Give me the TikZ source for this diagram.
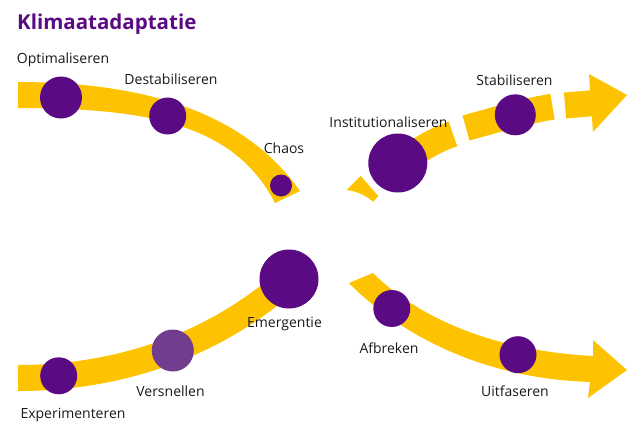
\documentclass[tikz,border=0pt]{standalone}
\usepackage{fontspec}
\setmainfont{Open Sans}
\definecolor{geel}{HTML}{FDC300}
\definecolor{paars}{HTML}{5A0A82}
\definecolor{lila}{HTML}{723D8E}

\begin{document}
\begin{tikzpicture}[x=1pt, y=-1pt,
    band/.style={draw=geel, line width=26pt},
    fase/.style={circle, fill=paars, inner sep=0pt, minimum size=#1},
    bijschrift/.style={anchor=base, inner sep=0pt, text=black!90, font=\fontsize{14}{16}\selectfont}]
    \useasboundingbox (0,0) rectangle (627,421);
    \node[anchor=base west, inner sep=0pt, text=paars, font=\bfseries\fontsize{20.5}{24}\selectfont] (titel) at (17,29.5) {Klimaatadaptatie};

    % gele banen
    \fill[geel] (18,82) .. controls (160,82) and (250,120) .. (300,191) -- (275,203) .. controls (235,125) and (150,108) .. (18,108) -- cycle;
    \draw[band] (18,378) .. controls (120,378) and (215,345) .. (289,279);
    \fill[geel] (346.7,190) -- (360.7,176) -- (378.3,196) -- (373.3,201.7) .. controls (365,195) and (356,191) .. cycle;
    \draw[band] (380,180) .. controls (400,162) and (428,142) .. (453,134)
        (466,128) .. controls (495,120) and (525,111) .. (552.5,106.7)
        (565,105.5) -- (595,103);
    \fill[geel] (589,74) -- (627,95) -- (593,132) -- cycle;
    \fill[geel] (373,273) .. controls (410,310) and (480,350) .. (593,356) -- (593,340) -- (627,370) -- (588,398) -- (590,382) .. controls (470,378) and (390,325) .. (349,283) -- cycle;

    % fasen
    \node[fase=42pt] (optimaliseren) at (61,97.5) {};
    \node[fase=37pt] (destabiliseren) at (167.7,116) {};
    \node[fase=22pt] (chaos) at (281,185.5) {};
    \node[fase=59pt] (institutionaliseren) at (397.8,163) {};
    \node[fase=41pt] (stabiliseren) at (515.3,114.8) {};
    \node[fase=37pt] (experimenteren) at (58.7,375.8) {};
    \node[fase=42pt, fill=lila] (versnellen) at (172.8,350.5) {};
    \node[fase=59pt] (emergentie) at (289,279) {};
    \node[fase=37pt] (afbreken) at (391.8,308.5) {};
    \node[fase=37pt] (uitfaseren) at (518,354.7) {};

    \node[bijschrift] (optimaliseren-tekst) at (63,63) {Optimaliseren};
    \node[bijschrift] (destabiliseren-tekst) at (171,84) {Destabiliseren};
    \node[bijschrift] (chaos-tekst) at (284,153) {Chaos};
    \node[bijschrift] (institutionaliseren-tekst) at (388.5,127) {Institutionaliseren};
    \node[bijschrift] (stabiliseren-tekst) at (514.5,85) {Stabiliseren};
    \node[bijschrift] (experimenteren-tekst) at (73,418) {Experimenteren};
    \node[bijschrift] (versnellen-tekst) at (170.5,396) {Versnellen};
    \node[bijschrift] (emergentie-tekst) at (284.5,327) {Emergentie};
    \node[bijschrift] (afbreken-tekst) at (389,353) {Afbreken};
    \node[bijschrift] (uitfaseren-tekst) at (515,396) {Uitfaseren};
\end{tikzpicture}
\end{document}
